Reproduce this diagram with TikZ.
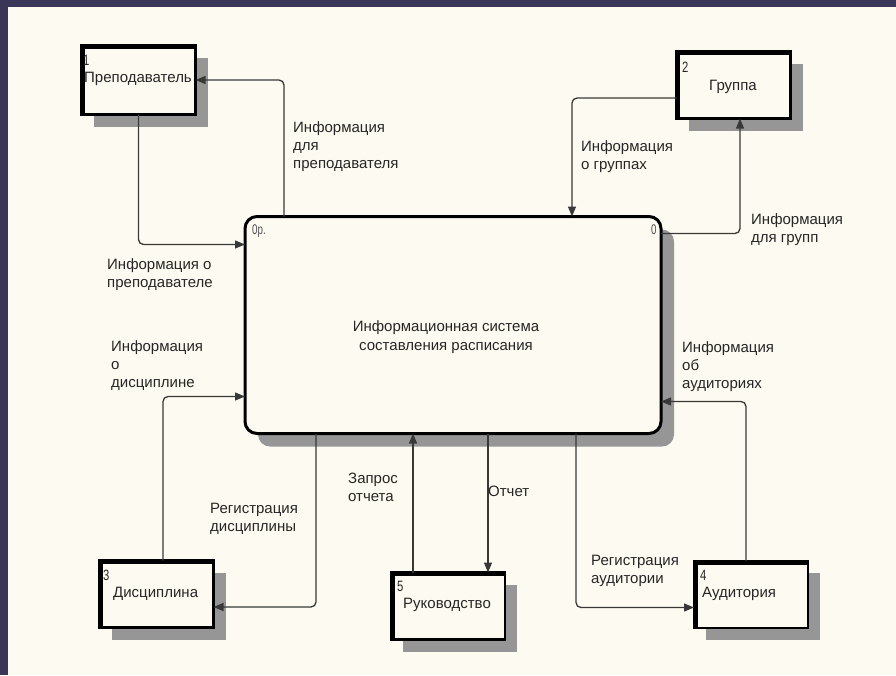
\documentclass[tikz,border=0pt]{standalone}
\usepackage{fontspec}
\setmainfont{Liberation Sans}
\usetikzlibrary{arrows.meta,calc,shadows}
\definecolor{navy}{HTML}{393658}
\definecolor{paper}{HTML}{FDFBF1}
\definecolor{shade}{HTML}{969696}
\definecolor{ink}{HTML}{262626}
\definecolor{numgray}{HTML}{505050}
\begin{document}
\begin{tikzpicture}[x=1pt,y=-1pt,
  ent/.style={rectangle, draw=black, line width=2.5pt, fill=paper,
    minimum width=114pt, minimum height=67pt, outer sep=0pt, inner sep=0pt,
    drop shadow={shadow xshift=12pt, shadow yshift=-12pt, fill=shade, opacity=1}},
  thickedge/.style={draw=black, line width=5pt, line join=miter},
  proc/.style={rectangle, rounded corners=12pt, draw=black, line width=3pt, fill=paper,
    minimum width=416pt, minimum height=217pt, outer sep=0pt, inner sep=0pt,
    drop shadow={shadow xshift=13pt, shadow yshift=-13pt, fill=shade, opacity=1}},
  flow/.style={draw=black!78, line width=1.3pt, rounded corners=5pt,
    -{Triangle[length=10pt,width=8pt]}},
  lbl/.style={anchor=north west, inner sep=0pt, align=left,
    font=\fontsize{15}{18.3}\selectfont, text=ink},
  ctr/.style={inner sep=0pt, align=center,
    font=\fontsize{15}{19}\selectfont, text=ink},
  num/.style={anchor=north west, inner sep=0pt,
    font=\fontsize{15}{15}\selectfont, text=ink},
  tag/.style={anchor=north west, inner sep=0pt,
    font=\fontsize{14}{14}\selectfont, text=numgray}
]
\useasboundingbox (0,0) rectangle (896,675);
\fill[navy] (0,0) rectangle (896,675);
\fill[paper] (8,7) rectangle (896,675);

% main process
\node[proc] (main) at (453,325) {};
\node[ctr] (maintext) at (446,337) {Информационная система\\составления расписания};
\node[tag] (tag0a) at (252,225) {\scalebox{0.7}[1]{0р.}};
\node[tag] (tag0b) at (651,225) {\scalebox{0.7}[1]{0}};

% external entities
\node[ent, minimum height=69pt] (p1) at (138.5,80) {};
\node[ent] (p2) at (733.5,85) {};
\node[ent] (p3) at (156.5,594) {};
\node[ent] (p5) at (448,606) {};
\node[ent] (p4) at (751,594.5) {};
\foreach \b in {p1,p2,p3,p4,p5}{
  \draw[thickedge] ([shift={(1.25,0)}]\b.south west) -- ([shift={(1.25,1.25)}]\b.north west) -- ([shift={(0,1.25)}]\b.north east);
}

\node[num] (n1) at (83,55) {\scalebox{0.75}[1]{1}};
\node[lbl] (t1) at (84,72) {Преподаватель};
\node[num] (n2) at (682,62) {\scalebox{0.75}[1]{2}};
\node[lbl, anchor=north] (t2) at (733,80) {Группа};
\node[num] (n3) at (103,570) {\scalebox{0.75}[1]{3}};
\node[lbl] (t3) at (113,587) {Дисциплина};
\node[num] (n5) at (397,581) {\scalebox{0.75}[1]{5}};
\node[lbl] (t5) at (403,598) {Руководство};
\node[num] (n4) at (700,570) {\scalebox{0.75}[1]{4}};
\node[lbl] (t4) at (702,587) {Аудитория};

% connectors
\coordinate (q7) at ($(p5.north)+(-35,0)$);
\coordinate (q8) at ($(main.south west)+(243,0)$);
\draw[flow] (p1.south) |- ($(main.north west)+(0,28)$);
\draw[flow] ($(main.north west)+(39,0)$) |- (p1.east);
\draw[flow] ($(p2.west)+(0,13)$) -| ($(main.north west)+(327,0)$);
\draw[flow] ($(main.north east)+(0,17)$) -| ($(p2.south)+(6.5,0)$);
\draw[flow] ($(p3.north)+(6.5,0)$) |- ($(main.south west)+(0,-37)$);
\draw[flow] ($(main.south west)+(71,0)$) |- ($(p3.east)+(0,13)$);
\draw[flow] (q7) -- (q7 |- main.south);
\draw[flow] (q8) -- (q8 |- p5.north);
\draw[flow] ($(main.south west)+(331,0)$) |- ($(p4.west)+(0,13)$);
\draw[flow] ($(p4.north)+(-5,0)$) |- ($(main.south east)+(0,-32)$);

% connector labels
\node[lbl] (l1) at (107,258) {Информация о\\преподавателе};
\node[lbl] (l2) at (293,121) {Информация\\для\\преподавателя};
\node[lbl] (l3) at (581,140) {Информация\\о группах};
\node[lbl] (l4) at (751,213) {Информация\\для групп};
\node[lbl] (l5) at (111,340) {Информация\\о\\дисциплине};
\node[lbl] (l6) at (210,503) {Регистрация\\дисциплины};
\node[lbl] (l7) at (348,473) {Запрос\\отчета};
\node[lbl] (l8) at (488,486) {Отчет};
\node[lbl] (l9) at (591,555) {Регистрация\\аудитории};
\node[lbl] (l10) at (682,341) {Информация\\об\\аудиториях};
\end{tikzpicture}
\end{document}
